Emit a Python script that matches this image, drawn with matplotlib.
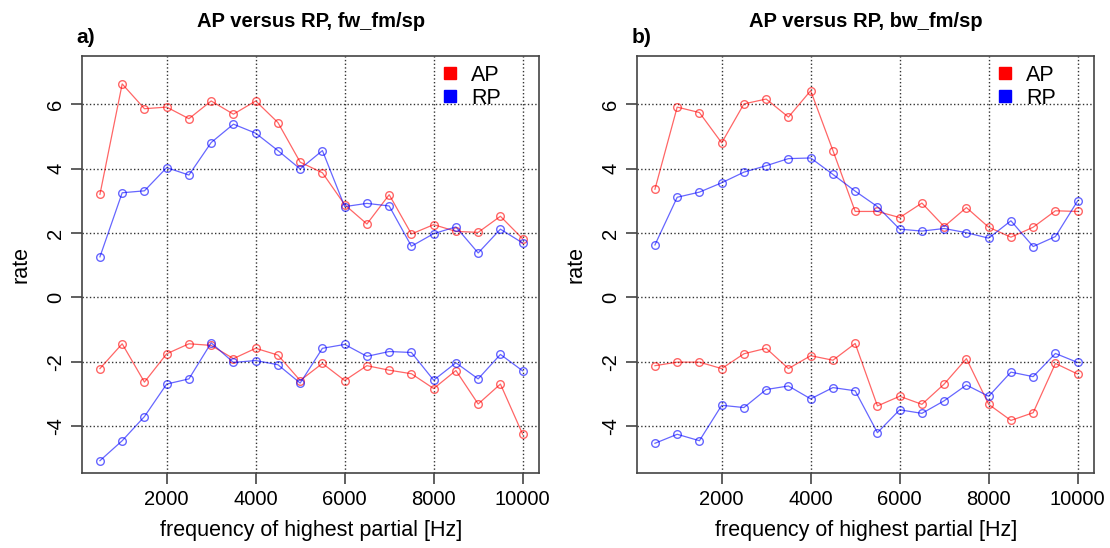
import matplotlib.pyplot as plt
from matplotlib.lines import Line2D

plt.rcParams['font.family'] = ['Liberation Sans', 'DejaVu Sans']

freq = list(range(500, 10001, 500))

# panel a) fw_fm/sp
fw_ap_pos = [3.20, 6.63, 5.86, 5.91, 5.55, 6.10, 5.69, 6.10, 5.43, 4.20,
             3.87, 2.88, 2.28, 3.19, 1.97, 2.26, 2.05, 2.02, 2.52, 1.82]
fw_rp_pos = [1.26, 3.25, 3.31, 4.03, 3.80, 4.81, 5.38, 5.10, 4.56, 3.99,
             4.56, 2.82, 2.92, 2.84, 1.59, 1.98, 2.19, 1.38, 2.12, 1.69]
fw_ap_neg = [-2.21, -1.44, -2.63, -1.75, -1.44, -1.49, -1.90, -1.58, -1.79, -2.58,
             -2.05, -2.58, -2.12, -2.26, -2.37, -2.83, -2.27, -3.31, -2.69, -4.25]
fw_rp_neg = [-5.07, -4.45, -3.70, -2.69, -2.53, -1.41, -2.02, -1.96, -2.09, -2.66,
             -1.58, -1.46, -1.83, -1.68, -1.71, -2.57, -2.03, -2.53, -1.77, -2.28]

# panel b) bw_fm/sp
bw_ap_pos = [3.36, 5.91, 5.74, 4.80, 6.01, 6.16, 5.60, 6.42, 4.56, 2.67,
             2.67, 2.48, 2.93, 2.20, 2.79, 2.18, 1.87, 2.18, 2.69, 2.67]
bw_rp_pos = [1.63, 3.11, 3.27, 3.56, 3.89, 4.09, 4.31, 4.33, 3.82, 3.30,
             2.82, 2.12, 2.06, 2.14, 2.01, 1.84, 2.38, 1.58, 1.89, 3.00]
bw_ap_neg = [-2.12, -2.01, -2.01, -2.21, -1.75, -1.58, -2.21, -1.81, -1.95, -1.43,
             -3.37, -3.07, -3.32, -2.69, -1.90, -3.32, -3.82, -3.58, -2.05, -2.38]
bw_rp_neg = [-4.53, -4.25, -4.45, -3.35, -3.42, -2.86, -2.75, -3.15, -2.80, -2.90,
             -4.20, -3.49, -3.60, -3.21, -2.72, -3.07, -2.32, -2.46, -1.74, -2.02]

titles = ["AP versus RP, fw_fm/sp", "AP versus RP, bw_fm/sp"]
tags = ["a)", "b)"]
panels = [(fw_ap_pos, fw_rp_pos, fw_ap_neg, fw_rp_neg),
          (bw_ap_pos, bw_rp_pos, bw_ap_neg, bw_rp_neg)]
xticks = [2000, 4000, 6000, 8000, 10000]
yticks = [-4, -2, 0, 2, 4, 6]

fig = plt.figure(figsize=(11.1, 5.48), dpi=100)
lefts = [0.074, 0.574]

for i in range(2):
    ax = fig.add_axes([lefts[i], 0.137, 0.4117, 0.761])
    ap_p, rp_p, ap_n, rp_n = panels[i]
    for ys, col in [(ap_p, 'red'), (rp_p, 'blue'), (ap_n, 'red'), (rp_n, 'blue')]:
        ax.plot(freq, ys, color=col, lw=0.9, alpha=0.6, marker='o', ms=5.5,
                mfc='none', mew=1.0)
    ax.set_xlim(100, 10370)
    ax.set_ylim(-5.45, 7.5)
    ax.set_xticks(xticks)
    ax.set_yticks(yticks)
    ax.set_yticklabels([str(t) for t in yticks], rotation=90, va='center')
    ax.tick_params(labelsize=14.5, length=8, width=1.2, color='#444444', pad=4)
    ax.grid(True, linestyle=':', color='#333333', lw=1.0)
    for s in ax.spines.values():
        s.set_color('#444444')
        s.set_linewidth(1.2)
    ax.set_xlabel("frequency of highest partial [Hz]", fontsize=15.5, labelpad=8)
    ax.set_ylabel("rate", fontsize=15.5, labelpad=11)
    ax.set_title(titles[i], fontsize=14.5, fontweight='bold', pad=21)
    ax.text(-0.012, 1.022, tags[i], transform=ax.transAxes, fontsize=15,
            fontweight='bold', ha='left', va='bottom')
    handles = [Line2D([], [], color='red', marker='s', ls='none', ms=8),
               Line2D([], [], color='blue', marker='s', ls='none', ms=8)]
    ax.legend(handles, ['AP', 'RP'], loc='upper right', frameon=False,
              fontsize=15.5, handlelength=0.8, handletextpad=0.6,
              labelspacing=0.1, borderaxespad=0.0, bbox_to_anchor=(0.935, 1.0))

fig.savefig("out.png", dpi=100)
